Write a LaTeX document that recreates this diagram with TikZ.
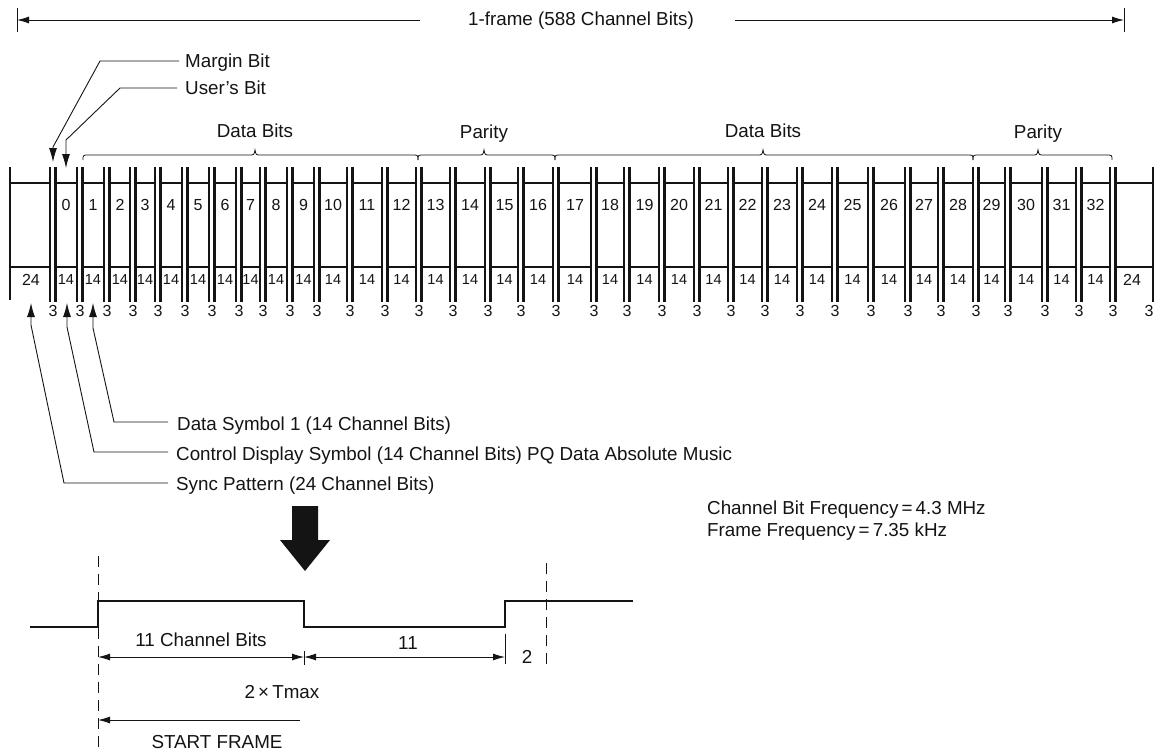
\documentclass[tikz,border=0pt]{standalone}
\usepackage{fontspec}
\setmainfont{Liberation Sans}
\usetikzlibrary{arrows.meta}
\definecolor{ink}{HTML}{141414}
\tikzset{
  lab/.style={font=\fontsize{18.8}{20}\selectfont,text=ink,inner sep=0pt},
  labw/.style={lab,anchor=mid west},
  num/.style={font=\fontsize{16}{18}\selectfont,text=ink,inner sep=0pt},
  numsm/.style={font=\fontsize{14.5}{16}\selectfont,text=ink,inner sep=0pt},
  bar/.style={draw=ink,line width=2.2pt},
  rail/.style={draw=ink,line width=2pt},
  thin/.style={draw=ink,line width=0.9pt},
  tipped/.style={thin,-{Latex[length=14pt,width=8pt]}},
  dim/.style={thin,{Latex[length=12pt,width=7pt]}-{Latex[length=12pt,width=7pt]}},
  dimr/.style={thin,-{Latex[length=12pt,width=7pt]}},
  dashline/.style={draw=ink,line width=0.9pt,dash pattern=on 11pt off 7pt},
  wave/.style={draw=ink,line width=2pt},
  brace/.style={draw=ink,line width=0.8pt}
}
\begin{document}
\begin{tikzpicture}[x=1pt,y=-1pt]
\useasboundingbox[fill=white] (0,0) rectangle (1155,753);

% frame dimension
\node[lab] (frame) at (581,21) {1-frame (588 Channel Bits)};
\coordinate (fl) at (17,20);
\coordinate (fr) at (1124,20);
\coordinate (flend) at (420,20);
\coordinate (frend) at (735,20);
\draw[dimr] (flend) -- (fl);
\draw[dimr] (frend) -- (fr);
\draw[thin] (17,8) -- (17,32);
\draw[thin] (1124,8) -- (1124,32);

% upper labels
\node[labw] (margin) at (185,65) {Margin Bit};
\node[labw] (user) at (185,92) {User's Bit};
\coordinate (mtip) at (53,162);
\coordinate (utip) at (66,168);
\coordinate (mk) at (100,61);
\coordinate (uk) at (120,88);
\coordinate (ms) at (179,61);
\coordinate (us) at (177,88);
\draw[tipped] (ms) -- (mk) -- (53,147) -- (mtip);
\draw[tipped] (us) -- (uk) -- (66,140) -- (utip);

\node[lab] (d1) at (255,131) {Data Bits};
\node[lab] (p1) at (484,134) {Parity};
\node[lab] (d2) at (763,131) {Data Bits};
\node[lab] (p2) at (1038,134) {Parity};

% braces
\foreach \a/\t/\b in {83/255/418,418/484/555,555/763/973,973/1038/1112}{
  \draw[brace] (\a,160) .. controls (\a,155) .. (\a+6,155) -- (\t-6,155)
     .. controls (\t-1,155) .. (\t,150) .. controls (\t+1,155) .. (\t+6,155)
     -- (\b-6,155) .. controls (\b,155) .. (\b,160);
}

% end walls of the track
\draw[bar] (10,167) -- (10,300);
\draw[bar] (1153,167) -- (1153,302);

% double bars with the 3 below each pair
\foreach \x in {50,77,104,130,155,182,209,236,260,287,314,347,382,416,450,485,518,553,591,624,659,694,728,762,797,832,868,905,938,973,1005,1042,1076,1110}{
  \draw[bar] (\x,167) -- (\x,302);
  \draw[bar] (\x+5.5,167) -- (\x+5.5,302);
  \node[num] at (\x+3,311) {3};
}
\node[num] at (1149,311) {3};

% first and last sync cell
\draw[rail] (10,183) -- (50,183);
\draw[rail] (10,267) -- (50,267);
\node[num] at (31,280) {24};
\draw[rail] (1115,183) -- (1153,183);
\draw[rail] (1115,267) -- (1153,267);
\node[num] at (1132,280) {24};

% symbol cells
\foreach \l/\r/\t in {55/77/0,82/104/1,110/130/2,135/155/3,160/182/4,187/209/5,214/236/6,241/260/7,265/287/8,293/314/9,319/347/10,352/382/11,387/416/12,421/450/13,455/485/14,491/518/15,523/553/16,559/591/17,596/624/18,630/659/19,664/694/20,699/728/21,733/762/22,767/797/23,802/832/24,837/868/25,873/905/26,910/938/27,943/973/28,978/1005/29,1010/1042/30,1047/1076/31,1081/1110/32}{
  \draw[rail] (\l,183) -- (\r,183);
  \draw[rail] (\l,267) -- (\r,267);
  \node[num] at ({(\l+\r)/2},205) {\t};
  \node[numsm] at ({(\l+\r)/2},280) {14};
}

% lower labels
\node[labw] (dsym) at (177,428) {Data Symbol 1 (14 Channel Bits)};
\node[labw] (csym) at (176,458) {Control Display Symbol (14 Channel Bits) PQ Data Absolute Music};
\node[labw] (sync) at (176,488) {Sync Pattern (24 Channel Bits)};
\coordinate (dtip) at (93,303);
\coordinate (ctip) at (67,303);
\coordinate (stip) at (31,303);
\coordinate (ds) at (168,422);
\coordinate (cs) at (168,452);
\coordinate (ss) at (168,483);
\draw[tipped] (ds) -- (114,422) -- (93,328) -- (dtip);
\draw[tipped] (cs) -- (94,452) -- (67,327) -- (ctip);
\draw[tipped] (ss) -- (64,483) -- (31,325) -- (stip);

\node[labw] (cbf) at (707,512) {Channel Bit Frequency\,=\,4.3 MHz};
\node[labw] (ff) at (707,534) {Frame Frequency\,=\,7.35 kHz};

% big arrow
\fill[ink] (292,506) -- (318,506) -- (318,540) -- (330,540) -- (305,571) -- (280,540) -- (292,540) -- cycle;

% waveform
\draw[wave] (30,627) -- (98,627) -- (98,601) -- (304,601) -- (304,627) -- (505,627) -- (505,601) -- (633,601);
\draw[dashline] (98,556) -- (98,753);
\draw[dashline] (546,563) -- (546,668);
\draw[thin] (304,651) -- (304,665);
\draw[thin] (505,634) -- (505,664);

\coordinate (a) at (98,657);
\coordinate (b) at (304,657);
\coordinate (c) at (505,657);
\draw[dim] (a) -- (b);
\draw[dim] (b) -- (c);
\node[lab] (ch) at (201,640) {11 Channel Bits};
\node[lab] (el) at (408,643) {11};
\node[lab] (tw) at (527,657) {2};
\node[lab] (tm) at (282,692) {2\,×\,Tmax};
\coordinate (sf0) at (300,720);
\coordinate (sf1) at (98,720);
\draw[dimr] (sf0) -- (sf1);
\node[lab] (sf) at (217,742) {START FRAME};
\end{tikzpicture}
\end{document}
